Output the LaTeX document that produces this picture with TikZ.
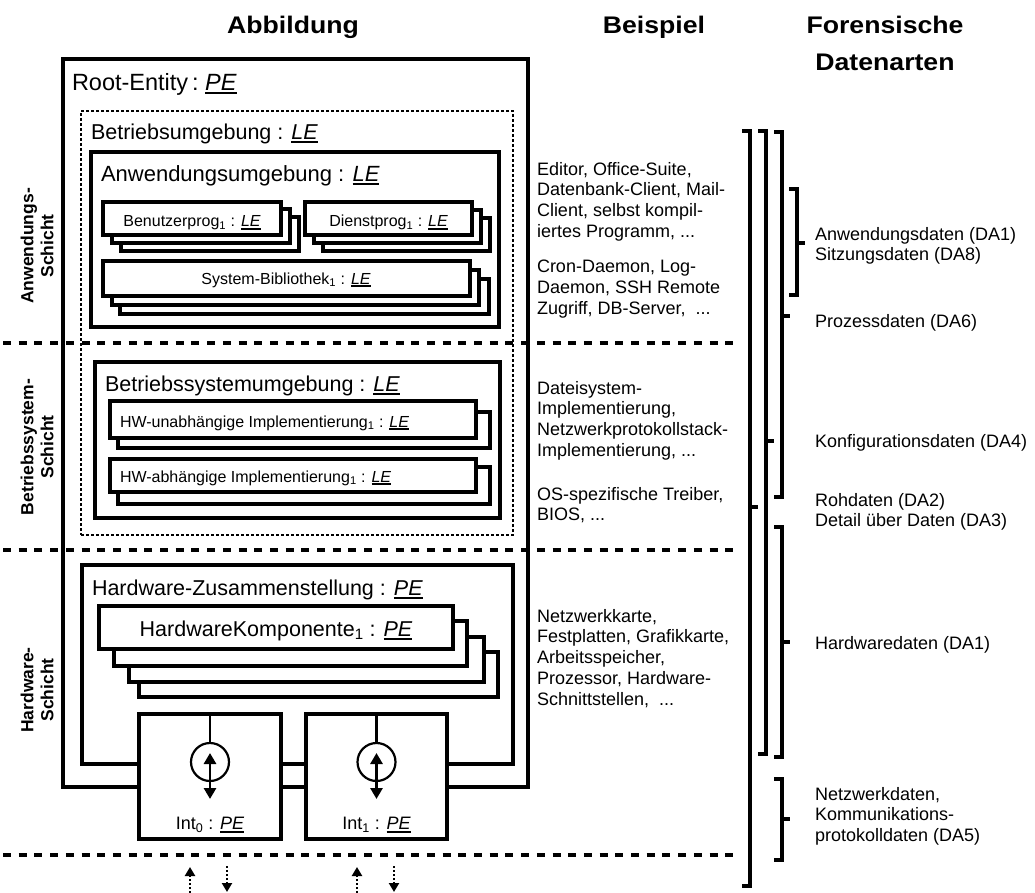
\documentclass[tikz,border=0pt]{standalone}
\usepackage{fontspec}
\setmainfont{Liberation Sans}
\usetikzlibrary{arrows.meta}

% underlined italic entity type (PE / LE)
\newcommand\uit[1]{\setbox0\hbox{\itshape #1}\rlap{\rule[-0.17em]{\wd0}{0.09em}}\box0}
% slightly widened bold headings
\newcommand\hdr[1]{\scalebox{1.11}[1]{#1}}
% box given by its corners: [opts]{x1}{y1}{x2}{y2}{name}
\newcommand\rbox[6][]{\node[box,#1,minimum width={(#4)-(#2)},minimum height={(#5)-(#3)}] (#6) at ({((#2)+(#4))/2},{((#3)+(#5))/2}) {};}
% bracket: {x}{top}{bottom}{tick}
\newcommand\brk[4]{\draw[brk] ({#1-8},#2) -- (#1,#2) -- (#1,#3) -- ({#1-8},#3); \draw[brk] (#1,#4) -- ({#1+8},#4);}

\tikzset{
  box/.style={draw, line width=3.2pt, fill=white, inner sep=0pt, outer sep=0pt},
  dotbox/.style={box, fill=none, line width=2.5pt, dash pattern=on 3pt off 2pt},
  lbl/.style={inner sep=0pt, outer sep=0pt},
  head/.style={lbl, font=\bfseries\fontsize{24}{28}\selectfont, anchor=base},
  layer/.style={lbl, rotate=90, align=center, font=\bfseries\fontsize{17.5}{20}\selectfont},
  big/.style={lbl, anchor=base west, font=\fontsize{21.5}{26}\selectfont},
  small/.style={lbl, anchor=base, font=\fontsize{16}{19}\selectfont},
  txt/.style={lbl, anchor=north west, align=left, font=\fontsize{18}{20.8}\selectfont},
  divider/.style={line width=4pt, dash pattern=on 8pt off 7.7pt},
  brk/.style={line width=3.2pt},
  bidir/.style={line width=2.8pt, {Triangle[width=12pt,length=11pt]}-{Triangle[width=12pt,length=11pt]}},
  dotarrow/.style={line width=2.2pt, dash pattern=on 2pt off 2pt, -{Triangle[width=10pt,length=9pt]}},
}

\begin{document}
\begin{tikzpicture}[x=1pt,y=-1pt]
\useasboundingbox (0,0) rectangle (1035,893);

% headings
\node[head] (hAbb) at (293,34) {\hdr{Abbildung}};
\node[head] (hBsp) at (654,34) {\hdr{Beispiel}};
\node[head] (hFo1) at (885,34) {\hdr{Forensische}};
\node[head] (hFo2) at (885,71) {\hdr{Datenarten}};

% root entity and operating environment
\rbox[fill=none]{63}{59}{528}{787}{root}
\node[dotbox, minimum width=432, minimum height=424] (env) at (297,323) {};

% application environment
\rbox{91}{152}{499}{327}{appenv}
\rbox{121}{217}{299}{251}{up3}
\rbox{112}{209}{290}{243}{up2}
\rbox{103}{202}{281}{235}{up1}
\rbox{323}{218}{490}{251}{dp3}
\rbox{314}{210}{481}{243}{dp2}
\rbox{305}{202}{472}{235}{dp1}
\rbox{120}{279}{489}{314}{lib3}
\rbox{112}{270}{479}{305}{lib2}
\rbox{103}{261}{470}{296}{lib1}

% operating system environment
\rbox{95}{362}{500}{518}{osenv}
\rbox{118}{412}{490}{448}{hwi2}
\rbox{110}{401}{476}{438}{hwi1}
\rbox{118}{467}{490}{504}{hwd2}
\rbox{110}{459}{476}{492}{hwd1}

% hardware assembly
\rbox[fill=none]{82}{565}{513}{764}{hwset}
\rbox{139}{652}{498}{697}{hk4}
\rbox{129}{637}{484}{682}{hk3}
\rbox{114}{621}{467}{666}{hk2}
\rbox{99}{606}{453}{649}{hk1}

% interfaces
\rbox{139}{714}{281}{839}{int0}
\rbox{306}{714}{447}{839}{int1}
\node[draw, circle, line width=2.2pt, minimum size=38pt, inner sep=0pt] (c0) at (210,762) {};
\node[draw, circle, line width=2.2pt, minimum size=38pt, inner sep=0pt] (c1) at (376.5,762) {};
\draw[line width=2.8pt] (int0.north) -- (c0.north);
\draw[line width=2.8pt] (int1.north) -- (c1.north);
\coordinate (a0t) at (210,753); \coordinate (a0b) at (210,799);
\coordinate (a1t) at (376.5,753); \coordinate (a1b) at (376.5,799);
\draw[bidir] (a0t) -- (a0b);
\draw[bidir] (a1t) -- (a1b);

% layer dividers
\draw[divider] (3,343) -- (735,343);
\draw[divider] (3,550) -- (735,550);
\draw[divider] (3,855) -- (735,855);

% box titles
\node[big, font=\fontsize{23.5}{28}\selectfont] (tRoot) at (72,90.4) {Root-Entity\,:\ \uit{PE}};
\node[big] (tEnv) at (91,139.7) {Betriebsumgebung : \uit{LE}};
\node[big, font=\fontsize{22}{26}\selectfont] (tApp) at (101,181.7) {Anwendungsumgebung : \uit{LE}};
\node[small] (tUp) at (192,226.8) {Benutzerprog\textsubscript{1} : \uit{LE}};
\node[small] (tDp) at (388.5,226.8) {Dienstprog\textsubscript{1} : \uit{LE}};
\node[small] (tLib) at (286,284) {System-Bibliothek\textsubscript{1} : \uit{LE}};
\node[big] (tOs) at (105,391) {Betriebssystemumgebung : \uit{LE}};
\node[small, anchor=base west] (tHwi) at (120,427) {HW-unabhängige Implementierung\textsubscript{1} : \uit{LE}};
\node[small, anchor=base west] (tHwd) at (120,482) {HW-abhängige Implementierung\textsubscript{1} : \uit{LE}};
\node[big] (tHw) at (92,595) {Hardware-Zusammenstellung : \uit{PE}};
\node[big, anchor=base] (tHk) at (276,636) {HardwareKomponente\textsubscript{1} : \uit{PE}};
\node[small, font=\fontsize{18}{21}\selectfont] (tI0) at (210,829.5) {Int\textsubscript{0} : \uit{PE}};
\node[small, font=\fontsize{18}{21}\selectfont] (tI1) at (376.5,829.5) {Int\textsubscript{1} : \uit{PE}};

% layer names
\node[layer] (lApp) at (37,246) {Anwendungs-\\Schicht};
\node[layer] (lOs) at (37,447) {Betriebssystem-\\Schicht};
\node[layer] (lHw) at (37,690) {Hardware-\\Schicht};

% examples
\node[txt] (b1) at (537,162) {Editor, Office-Suite,\\Datenbank-Client, Mail-\\Client, selbst kompil-\\iertes Programm, ...};
\node[txt] (b2) at (537,260) {Cron-Daemon, Log-\\Daemon, SSH Remote\\Zugriff, DB-Server,\ \ ...};
\node[txt] (b3) at (537,381) {Dateisystem-\\Implementierung,\\Netzwerkprotokollstack-\\Implementierung, ...};
\node[txt] (b4) at (537,487) {OS-spezifische Treiber,\\BIOS, ...};
\node[txt] (b5) at (537,609) {Netzwerkkarte,\\Festplatten, Grafikkarte,\\Arbeitsspeicher,\\Prozessor, Hardware-\\Schnittstellen,\ \ ...};

% forensic data types
\node[txt] (d1) at (815,227) {Anwendungsdaten (DA1)\\Sitzungsdaten (DA8)};
\node[txt] (d2) at (815,314) {Prozessdaten (DA6)};
\node[txt] (d3) at (815,434) {Konfigurationsdaten (DA4)};
\node[txt] (d4) at (815,493) {Rohdaten (DA2)\\Detail über Daten (DA3)};
\node[txt] (d5) at (815,636) {Hardwaredaten (DA1)};
\node[txt] (d6) at (815,787) {Netzwerkdaten,\\Kommunikations-\\protokolldaten (DA5)};

% brackets
\brk{750}{131}{886}{507}
\brk{766}{131}{754}{441}
\brk{782}{132}{497}{316}
\brk{797}{189}{295}{243}
\brk{782}{527}{757}{642}
\brk{782}{779}{860}{819}

% external data flow
\coordinate (u0s) at (190,893); \coordinate (u0e) at (190,867);
\coordinate (d0s) at (227,866); \coordinate (d0e) at (227,892);
\coordinate (u1s) at (357,893); \coordinate (u1e) at (357,867);
\coordinate (d1s) at (394,866); \coordinate (d1e) at (394,892);
\draw[dotarrow] (u0s) -- (u0e);
\draw[dotarrow] (d0s) -- (d0e);
\draw[dotarrow] (u1s) -- (u1e);
\draw[dotarrow] (d1s) -- (d1e);
\end{tikzpicture}
\end{document}
